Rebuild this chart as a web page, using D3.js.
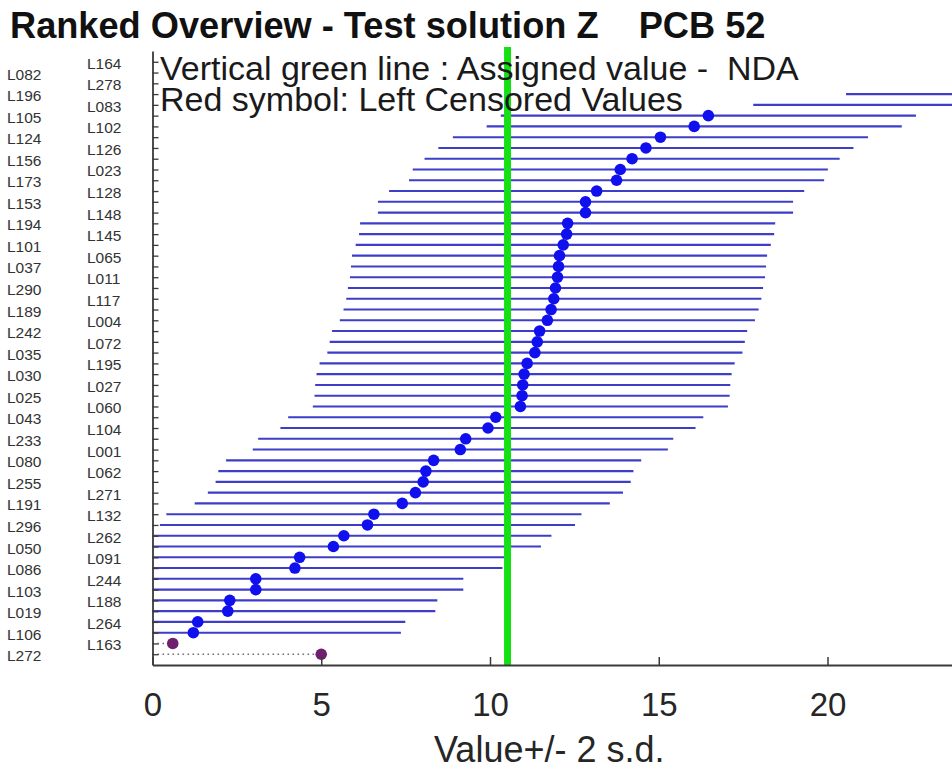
<!DOCTYPE html>
<html>
<head>
<meta charset="utf-8">
<script src="https://cdn.jsdelivr.net/npm/d3@7"></script>
<style>
  html, body { margin: 0; padding: 0; background: #ffffff; }
  svg { display: block; font-family: "Liberation Sans", Arial, sans-serif; }
</style>
</head>
<body>
<svg id="chart" width="952" height="769"></svg>
<script>
// ---- data (ranked, top row first) ----
const labs = ["L164","L082","L278","L196","L083","L105","L102","L124","L126","L156",
  "L023","L173","L128","L153","L148","L194","L145","L101","L065","L037",
  "L011","L290","L117","L189","L004","L242","L072","L035","L195","L030",
  "L027","L025","L060","L043","L104","L233","L001","L080","L062","L255",
  "L271","L191","L132","L296","L262","L050","L091","L086","L244","L103",
  "L188","L019","L264","L106","L163","L272"];
const values = [36.0, 32.5, 30.5, 26.7, 23.95, 16.47, 16.05, 15.05, 14.62, 14.21,
  13.86, 13.75, 13.16, 12.83, 12.83, 12.30, 12.27, 12.17, 12.06, 12.03,
  12.00, 11.94, 11.89, 11.81, 11.70, 11.47, 11.40, 11.33, 11.10, 11.01,
  10.97, 10.95, 10.90, 10.17, 9.94, 9.28, 9.12, 8.33, 8.10, 8.02,
  7.79, 7.40, 6.56, 6.37, 5.67, 5.36, 4.36, 4.22, 3.06, 3.06,
  2.29, 2.23, 1.34, 1.21, 0.60, 5.00];
const censoredLabs = ["L163", "L272"];
const twoSD = 6.15;
const assignedValue = 10.52;
const xTicks = [0, 5, 10, 15, 20];
const titleText = "Ranked Overview - Test solution Z    PCB 52";
const legendLines = ["Vertical green line : Assigned value -  NDA", "Red symbol: Left Censored Values"];
const xTitle = "Value+/- 2 s.d.";

const rows = labs.map((lab, i) => ({lab, value: values[i], censored: censoredLabs.includes(lab), idx: i}));

// ---- layout ----
const svg = d3.select("#chart");
const L = 152.5, R = 952, T = 51, B = 665;
const x = d3.scaleLinear().domain([0, (R - L) / 33.75]).range([L, R]);
const y = d3.scalePoint().domain(labs).range([T, B]).padding(1);

svg.append("defs").append("clipPath").attr("id", "plotclip")
  .append("rect").attr("x", L).attr("y", 30).attr("width", R - L).attr("height", B - 30);

const plot = svg.append("g").attr("clip-path", "url(#plotclip)");

// error bars
plot.selectAll("line.bar").data(rows.filter(d => !d.censored)).join("line")
  .attr("class", "bar")
  .attr("x1", d => x(d.value - twoSD)).attr("x2", d => x(d.value + twoSD))
  .attr("y1", d => y(d.lab)).attr("y2", d => y(d.lab))
  .attr("stroke", "#3d3dc8").attr("stroke-width", 2.1);

// censored dotted lines
plot.selectAll("line.cens").data(rows.filter(d => d.censored)).join("line")
  .attr("class", "cens")
  .attr("x1", x(0)).attr("x2", d => x(d.value))
  .attr("y1", d => y(d.lab)).attr("y2", d => y(d.lab))
  .attr("stroke", "#7a6a80").attr("stroke-width", 1.6).attr("stroke-dasharray", "1.6,3.4");

// assigned value line
plot.append("line")
  .attr("x1", x(assignedValue)).attr("x2", x(assignedValue))
  .attr("y1", 47).attr("y2", B)
  .attr("stroke", "#14e014").attr("stroke-width", 7);

// points
plot.selectAll("circle.pt").data(rows).join("circle")
  .attr("class", "pt")
  .attr("cx", d => x(d.value)).attr("cy", d => y(d.lab))
  .attr("r", 5.8)
  .attr("fill", d => d.censored ? "#6e1f6e" : "#1010ee");

// y axis (ticks only)
const yAxis = svg.append("g").attr("transform", `translate(${L},0)`)
  .call(d3.axisRight(y).tickSize(6).tickSizeOuter(0).tickFormat(""));
yAxis.select(".domain").attr("stroke", "#3a3a3a").attr("stroke-width", 1.8);
yAxis.selectAll(".tick line").attr("stroke", "#3a3a3a").attr("stroke-width", 1.3);

// y labels in two alternating columns
svg.append("g").selectAll("text").data(rows).join("text")
  .attr("x", d => d.idx % 2 === 0 ? 87 : 7)
  .attr("y", d => y(d.lab) + 1.5)
  .attr("dominant-baseline", "central")
  .attr("font-size", 15.5)
  .attr("fill", "#333")
  .text(d => d.lab);

// x axis
const xAxis = svg.append("g").attr("transform", `translate(0,${B})`)
  .call(d3.axisBottom(x).tickValues(xTicks).tickSizeInner(-8).tickSizeOuter(0).tickPadding(28));
xAxis.select(".domain").attr("stroke", "#3a3a3a").attr("stroke-width", 2);
xAxis.selectAll(".tick line").attr("stroke", "#3a3a3a").attr("stroke-width", 1.5);
xAxis.selectAll(".tick text").attr("font-size", 33).attr("fill", "#262626")
  .attr("font-family", "\"Liberation Sans\", Arial, sans-serif");

// x title
svg.append("text").attr("x", (L + R) / 2 - 3).attr("y", 762)
  .attr("text-anchor", "middle").attr("font-size", 36).attr("fill", "#262626")
  .text(xTitle);

// legend text
svg.append("g").selectAll("text").data(legendLines).join("text")
  .attr("x", 160).attr("y", (d, i) => 80 + i * 31)
  .attr("font-size", 34).attr("fill", "#1a1a1a")
  .style("white-space", "pre")
  .text(d => d);

// title
svg.append("text").attr("x", 10).attr("y", 38)
  .attr("font-size", 36.2).attr("font-weight", "bold").attr("fill", "#111")
  .style("white-space", "pre")
  .text(titleText);
</script>
</body>
</html>
